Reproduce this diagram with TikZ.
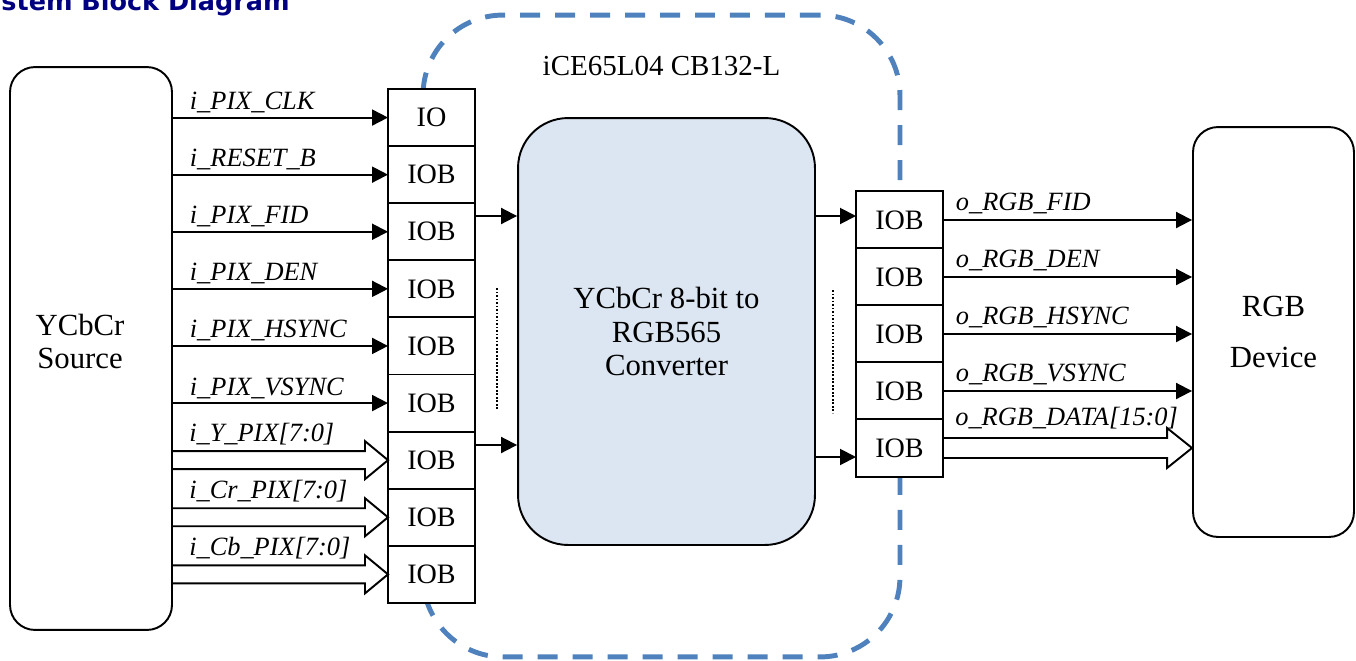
\documentclass[tikz,border=0pt]{standalone}
\usepackage{fontspec}
\setmainfont{Liberation Serif}
\newfontfamily\headfont{DejaVu Sans}
\usetikzlibrary{arrows.meta,calc,positioning}

\definecolor{chipblue}{RGB}{79,129,189}
\definecolor{convfill}{RGB}{220,230,242}
\definecolor{titleblue}{RGB}{0,0,128}

\tikzset{
  blk/.style={draw, line width=1.1pt, rounded corners=0.5cm, align=center, font=\fontsize{17.5}{18.5}\selectfont},
  iob/.style={draw, fill=white, line width=1.1pt, minimum width=1.74cm, minimum height=1.142cm,
    inner sep=0pt, outer sep=0pt, font=\fontsize{16}{18}\selectfont},
  sig/.style={line width=1.1pt, -{Triangle[length=0.32cm,width=0.32cm]}},
  bus/.style={line width=1.1pt, line join=miter},
  lbl/.style={font=\fontsize{15}{16}\selectfont\itshape, anchor=base west, inner sep=0pt},
}

\begin{document}
\begin{tikzpicture}[x=0.02cm, y=-0.02cm]
  \useasboundingbox (0,0) rectangle (1356,660);
  \clip (0,0) rectangle (1356,660);

  % heading, cut at the top
  \node[anchor=base east, inner sep=0pt, text=titleblue,
    font=\headfont\bfseries\fontsize{14.5}{18}\selectfont] (title) at (290,10) {System Block Diagram};

  % FPGA boundary
  \node[draw=chipblue, line width=2.8pt, dash pattern=on 0.4cm off 0.3cm, rounded corners=1.6cm,
    minimum width=9.54cm, minimum height=12.84cm] (chip) at (661.5,336) {};
  \node[font=\fontsize{16.5}{18}\selectfont] (chiplbl) at ($(chip.north)+(0,53)$) {iCE65L04 CB132-L};

  % blocks
  \node[blk, minimum width=3.24cm, minimum height=11.26cm] (src) at (91,348.5) {};
  \node[align=center, font=\fontsize{17.5}{18.5}\selectfont] (srctxt) at ($(src.center)+(-11,-7)$) {YCbCr\\Source};
  \node[blk, minimum width=3.22cm, minimum height=8.2cm] (dev) at (1273.5,332) {RGB\\[0.36cm]Device};
  \node[blk, fill=convfill, rounded corners=1cm, minimum width=5.94cm, minimum height=8.54cm,
    font=\fontsize{17.5}{19}\selectfont] (conv) at (666.5,331.5) {YCbCr 8-bit to\\RGB565\\Converter};

  % IO columns
  \foreach \i/\txt in {1/IO, 2/IOB, 3/IOB, 4/IOB, 5/IOB, 6/IOB, 7/IOB, 8/IOB, 9/IOB}
    \node[iob] (l\i) at (431.5,{89+57.1*(\i-0.5)}) {\txt};
  \foreach \i in {1,...,5}
    \node[iob] (r\i) at (899.5,{191.5+57*(\i-0.5)}) {IOB};

  % inputs
  \foreach \i/\txt in {1/i\_PIX\_CLK, 2/i\_RESET\_B, 3/i\_PIX\_FID, 4/i\_PIX\_DEN, 5/i\_PIX\_HSYNC, 6/i\_PIX\_VSYNC}
    \draw[sig] (src.east |- l\i) -- (l\i.west) node[lbl, pos=0, xshift=0.32cm, yshift=0.16cm] {\txt};
  \foreach \i/\txt in {7/i\_Y\_PIX[7:0], 8/i\_Cr\_PIX[7:0], 9/i\_Cb\_PIX[7:0]}{
    \draw[bus] ($(src.east |- l\i)+(0,-9)$) -- ($(l\i.west)+(-23,-9)$) -- ++(0,-10) -- (l\i.west)
      -- ($(l\i.west)+(-23,19)$) -- ++(0,-10) -- ($(src.east |- l\i)+(0,9)$);
    \node[lbl] at ($(src.east |- l\i)+(16,-19)$) {\txt};
  }

  % into and out of the converter
  \draw[sig] (l3.east |- 0,216) -- (conv.west |- 0,216);
  \draw[sig] (l7.east |- 0,445) -- (conv.west |- 0,445);
  \draw[sig] (conv.east |- 0,216) -- (r1.west |- 0,216);
  \draw[sig] (conv.east |- 0,457) -- (r5.west |- 0,457);
  \draw[densely dotted, line width=1pt] (497,288) -- (497,410);
  \draw[densely dotted, line width=1pt] (833,290) -- (833,413);

  % outputs
  \foreach \i/\txt in {1/o\_RGB\_FID, 2/o\_RGB\_DEN, 3/o\_RGB\_HSYNC, 4/o\_RGB\_VSYNC}
    \draw[sig] (r\i.east) -- (r\i.east -| dev.west) node[lbl, pos=0, xshift=0.24cm, yshift=0.2cm] {\txt};
  \draw[bus] ($(r5.east)+(0,-10)$) -- ($(r5.east -| dev.west)+(-25,-10)$) -- ++(0,-10) -- (r5.east -| dev.west)
    -- ($(r5.east -| dev.west)+(-25,20)$) -- ++(0,-10) -- ($(r5.east)+(0,10)$);
  \node[lbl] at ($(r5.east)+(12,-23)$) {o\_RGB\_DATA[15:0]};
\end{tikzpicture}
\end{document}
